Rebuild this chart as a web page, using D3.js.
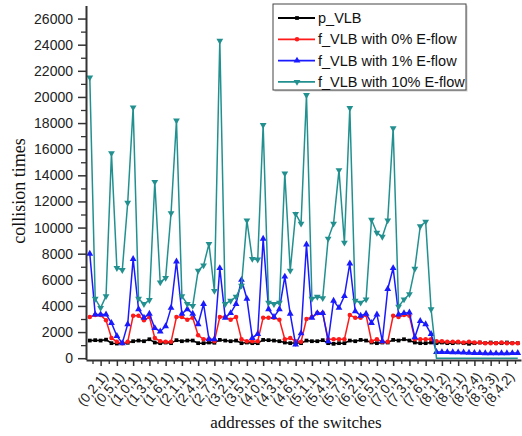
<!DOCTYPE html>
<html>
<head>
<meta charset="utf-8">
<script src="https://cdn.jsdelivr.net/npm/d3@7"></script>
<style>
  body { margin: 0; background: #fff; }
  svg { display: block; }
  .axis text { font-family: "Liberation Sans", Arial, sans-serif; fill: #222; }
  .axis path, .axis line { stroke: #333; }
</style>
</head>
<body>
<script>
(function() {

    const width = 522;
    const height = 436;

    // switch addresses (pod, switch, layer) then core (8, j, i)
    const categories = [];
    for (let p = 0; p < 8; p++) for (let s = 0; s < 8; s++) categories.push("(" + p + "," + s + ",1)");
    for (let j = 1; j <= 4; j++) for (let i = 1; i <= 4; i++) categories.push("(8," + j + "," + i + ")");

    const tickLabels = ["(0,2,1)", "(0,5,1)", "(1,0,1)", "(1,3,1)", "(1,6,1)", "(2,1,1)", "(2,4,1)",
        "(2,7,1)", "(3,2,1)", "(3,5,1)", "(4,0,1)", "(4,3,1)", "(4,6,1)", "(5,1,1)", "(5,4,1)",
        "(5,7,1)", "(6,2,1)", "(6,5,1)", "(7,0,1)", "(7,3,1)", "(7,6,1)", "(8,1,2)", "(8,2,1)",
        "(8,2,4)", "(8,3,3)", "(8,4,2)"];

    const yTicks = [0, 2000, 4000, 6000, 8000, 10000, 12000, 14000, 16000, 18000, 20000, 22000, 24000, 26000];

    const seriesNames = ["p_VLB", "f_VLB with 0% E-flow", "f_VLB with 1% E-flow", "f_VLB with 10% E-flow"];

    const pVLB = [
        1350, 1380, 1350, 1420, 1150, 1120, 1150, 1180,
        1300, 1350, 1300, 1450, 1200, 1150, 1200, 1150,
        1380, 1300, 1350, 1350, 1150, 1150, 1200, 1180,
        1400, 1350, 1300, 1350, 1150, 1200, 1150, 1150,
        1400, 1380, 1350, 1300, 1200, 1150, 1180, 1150,
        1350, 1300, 1300, 1380, 1150, 1100, 1150, 1150,
        1350, 1300, 1400, 1350, 1200, 1150, 1200, 1200,
        1400, 1350, 1450, 1350, 1200, 1150, 1150, 1200,
        1150, 1200, 1150, 1150, 1200, 1150, 1100, 1150,
        1200, 1150, 1200, 1150, 1150, 1200, 1150, 1150
    ];

    const flow0 = [
        3150, 3300, 3300, 2900, 1550, 1250, 1150, 1250,
        3250, 3250, 2900, 3150, 1550, 1300, 1250, 1250,
        3150, 3150, 2950, 3100, 1750, 1450, 1450, 1300,
        3150, 3150, 2950, 3150, 1450, 1300, 1300, 1300,
        3100, 3100, 3100, 2950, 1450, 1550, 1300, 1250,
        3000, 3150, 3450, 3450, 1450, 1450, 1450, 1450,
        3300, 3100, 3100, 3300, 1300, 1450, 1250, 1250,
        3250, 3150, 3300, 3250, 1450, 1450, 1450, 1450,
        1300, 1300, 1250, 1250, 1250, 1200, 1250, 1200,
        1200, 1150, 1150, 1150, 1200, 1150, 1150, 1150
    ];

    const flow1 = [
        8000, 3350, 3350, 3350, 2700, 1700, 1150, 2600,
        7600, 3750, 3100, 3400, 2300, 2050, 2450, 3850,
        7400, 3400, 3750, 3400, 2600, 4150, 1450, 1450,
        6900, 3100, 3450, 4150, 6000, 4550, 1550, 1850,
        9150, 3750, 3150, 3750, 6250, 3400, 1050, 1900,
        8700, 3100, 3450, 3450, 1300, 4400, 3850, 4750,
        7250, 3600, 3250, 3400, 2700, 3350, 1300, 5300,
        6900, 3350, 3450, 3500, 1600, 2850, 2600, 1850,
        480, 470, 470, 460, 450, 440, 420, 400,
        400, 380, 380, 370, 380, 380, 390, 400
    ];

    const flow10 = [
        21500, 4550, 3850, 4750, 15700, 6900, 6750, 11900,
        19200, 4550, 4150, 4450, 13500, 5800, 6150, 11100,
        18200, 4750, 4150, 4000, 6700, 7100, 8750, 5150,
        24300, 4150, 4400, 4700, 5550, 10550, 7600, 7550,
        17850, 4250, 4150, 4250, 14150, 6700, 11050, 10300,
        20150, 4550, 4700, 4600, 9150, 10300, 14400, 8850,
        19150, 4400, 4250, 4500, 10600, 9600, 9300, 10550,
        17600, 3950, 4500, 4900, 6850, 10100, 10450, 3750,
        0, 0, 0, 0, 0, 0, 0, 0,
        0, 0, 0, 0, 0, 0, 0, 0
    ];

    const allSeries = [pVLB, flow0, flow1, flow10];
    const colors = ["#000000", "#ff1a1a", "#1a1aff", "#239090"];
    const symbols = [d3.symbolSquare, d3.symbolCircle, d3.symbolTriangle, d3.symbolTriangle];
    const symbolSizes = [14, 16, 20, 20];
    const symbolRotate = [0, 0, 0, 180];

    const x = d3.scaleLinear().domain([-0.7, 79.6]).range([86, 521]);
    const y = d3.scaleLinear().domain([-100, 27000]).range([359.5, 5.5]);

    const svg = d3.select("body").append("svg")
        .attr("width", width)
        .attr("height", height);

    // series, drawn in legend order (last on top)
    const line = d3.line()
        .x((d, i) => x(i))
        .y(d => y(d));

    allSeries.forEach((vals, k) => {
        svg.append("path")
            .datum(vals)
            .attr("fill", "none")
            .attr("stroke", colors[k])
            .attr("stroke-width", 1.5)
            .attr("d", line);

        // zero values sit on the axis, their markers are hidden there
        svg.append("g").selectAll("path")
            .data(vals.map((v, i) => [i, v]).filter(d => d[1] > 0))
            .enter()
            .append("path")
            .attr("d", d3.symbol().type(symbols[k]).size(symbolSizes[k]))
            .attr("transform", d => "translate(" + x(d[0]) + "," + y(d[1]) + ") rotate(" + symbolRotate[k] + ")")
            .attr("fill", colors[k]);
    });

    // y axis: minor ticks then major
    svg.append("g")
        .attr("class", "axis")
        .attr("transform", "translate(86,0)")
        .call(d3.axisLeft(y).tickValues(d3.range(1000, 27000, 2000)).tickSize(5).tickFormat("").tickSizeOuter(0))
        .call(g => g.select(".domain").remove())
        .selectAll("line").attr("stroke-width", 1.3);

    const yAxis = svg.append("g")
        .attr("class", "axis")
        .attr("transform", "translate(86,0)")
        .call(d3.axisLeft(y).tickValues(yTicks).tickFormat(d3.format("d")).tickSize(8).tickPadding(5).tickSizeOuter(0));
    yAxis.select(".domain").attr("stroke-width", 2);
    yAxis.selectAll("line").attr("stroke-width", 1.5);
    yAxis.selectAll("text").style("font-size", "14px");

    // x axis
    const tickIdx = tickLabels.map(l => categories.indexOf(l));

    svg.append("g")
        .attr("class", "axis")
        .attr("transform", "translate(0,360)")
        .call(d3.axisBottom(x).tickValues(tickIdx.map(i => i - 1.5).concat([78.5])).tickSize(4).tickFormat("").tickSizeOuter(0))
        .call(g => g.select(".domain").remove())
        .selectAll("line").attr("stroke-width", 1.3);

    const xAxis = svg.append("g")
        .attr("class", "axis")
        .attr("transform", "translate(0,360)")
        .call(d3.axisBottom(x).tickValues(tickIdx).tickFormat(i => categories[i]).tickSize(6).tickSizeOuter(0));
    xAxis.select(".domain").attr("stroke-width", 2);
    xAxis.selectAll("line").attr("stroke-width", 1.5);
    xAxis.selectAll("text")
        .style("font-size", "13.5px")
        .attr("text-anchor", "end")
        .attr("y", 0)
        .attr("dy", "0.35em")
        .attr("transform", "translate(4,14) rotate(-50)");

    // axis titles
    svg.append("text")
        .attr("transform", "translate(25,191) rotate(-90)")
        .attr("text-anchor", "middle")
        .style("font-family", "'Liberation Serif', 'Times New Roman', serif")
        .style("font-size", "18px")
        .style("fill", "#111")
        .text("collision times");

    svg.append("text")
        .attr("x", 296)
        .attr("y", 428)
        .attr("text-anchor", "middle")
        .style("font-family", "'Liberation Serif', 'Times New Roman', serif")
        .style("font-size", "17px")
        .style("fill", "#111")
        .text("addresses of the switches");

    // legend
    const legend = svg.append("g").attr("transform", "translate(273,4)");
    legend.append("rect")
        .attr("x", 1.5).attr("y", 1.5)
        .attr("width", 193).attr("height", 86)
        .attr("fill", "#ccc");
    legend.append("rect")
        .attr("width", 193).attr("height", 86)
        .attr("fill", "#fff")
        .attr("stroke", "#444")
        .attr("stroke-width", 1);

    const rows = legend.selectAll("g.row")
        .data(seriesNames)
        .enter()
        .append("g")
        .attr("class", "row")
        .attr("transform", (d, i) => "translate(0," + (14 + i * 21.3) + ")");

    rows.append("line")
        .attr("x1", 5).attr("x2", 42)
        .attr("stroke", (d, i) => colors[i])
        .attr("stroke-width", 1.8);

    rows.append("path")
        .attr("d", (d, i) => d3.symbol().type(symbols[i]).size(symbolSizes[i])())
        .attr("transform", (d, i) => "translate(24,0) rotate(" + symbolRotate[i] + ")")
        .attr("fill", (d, i) => colors[i]);

    rows.append("text")
        .attr("x", 45)
        .attr("dy", "0.35em")
        .style("font-family", "'Liberation Sans', Arial, sans-serif")
        .style("font-size", "14.5px")
        .style("fill", "#111")
        .text(d => d);

})();
</script>
</body>
</html>
